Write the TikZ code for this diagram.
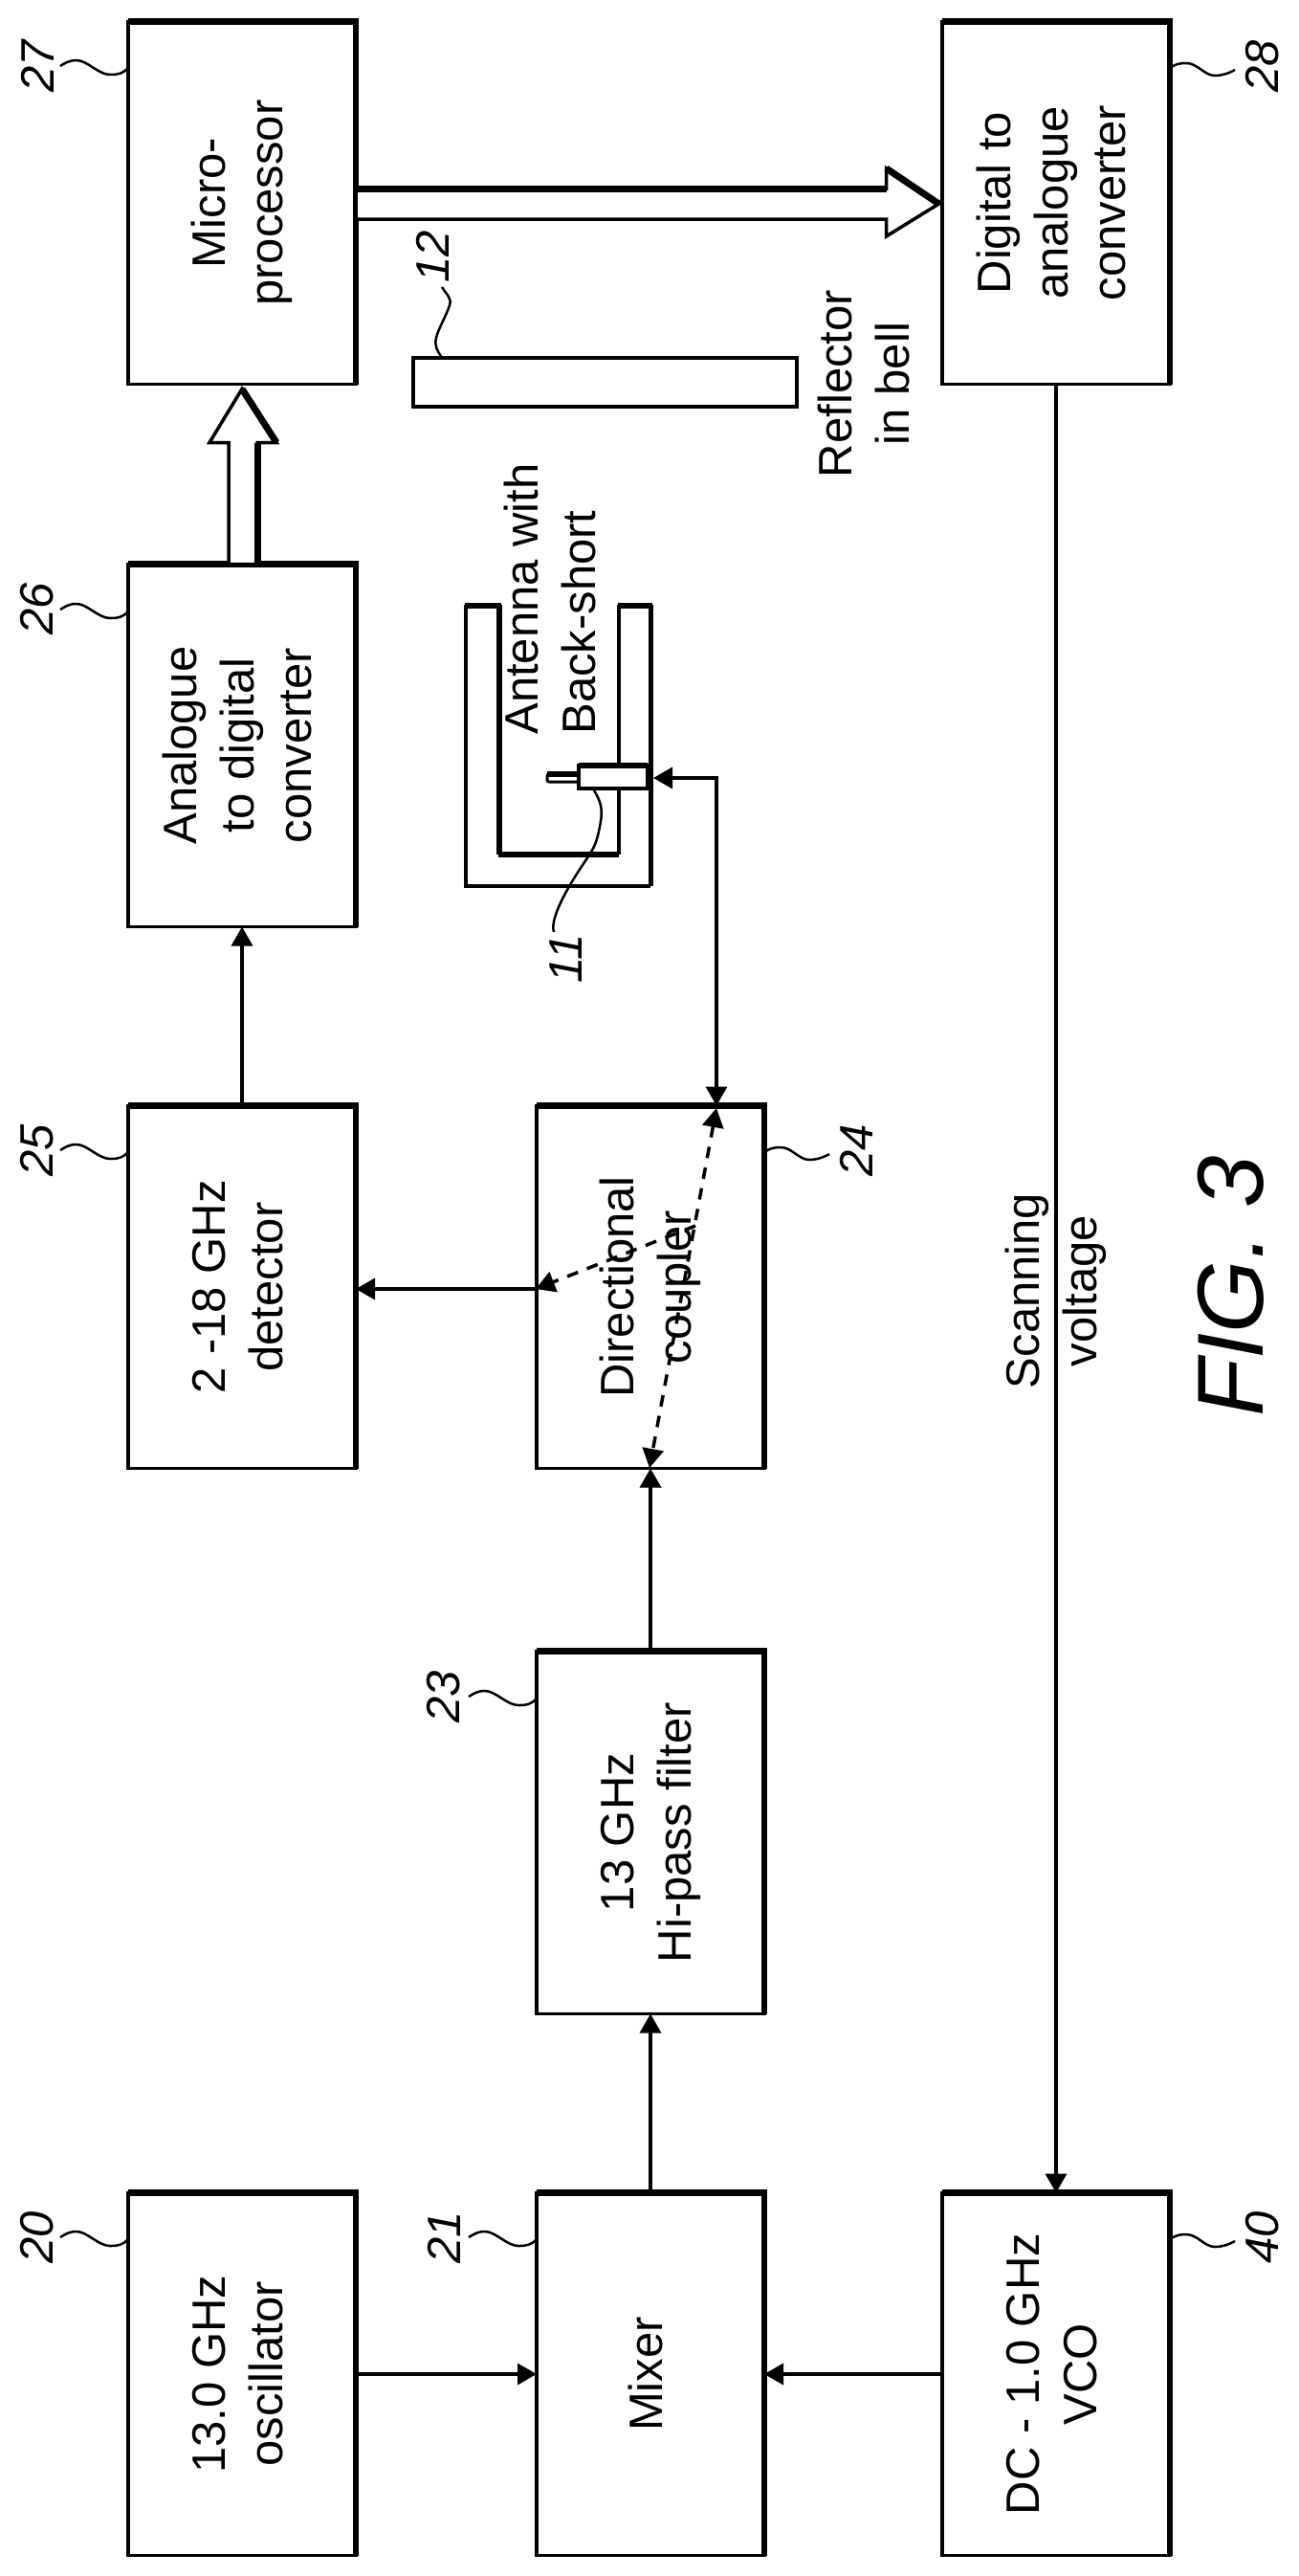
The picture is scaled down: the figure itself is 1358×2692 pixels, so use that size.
\documentclass[tikz,border=0pt]{standalone}
\usepackage{fontspec}
\setmainfont{Liberation Sans}
\usetikzlibrary{arrows.meta,calc}
\newcommand{\rtext}[1]{\rotatebox{90}{\begin{tabular}{@{}c@{}}#1\end{tabular}}}
\newcommand{\blk}[4]{%
  \node[blk] (#1) at (#2,#3) {\rtext{#4}};
  \draw[edge] (#1.north west) -- (#1.north east) -- (#1.south east);
}
\newcommand{\sqL}[2]{\draw[lead] (#1.west |- 0,#2) .. controls +(-6,6) and +(9,0) .. ++(-19,7) .. controls +(-12,0) and +(11,0) .. ++(-35,-15) .. controls +(-8,0) and +(5,-3) .. ++(-17,6);}
\newcommand{\sqR}[2]{\draw[lead] (#1.east |- 0,#2) .. controls +(6,-4) and +(-7,0) .. ++(17,-5) .. controls +(12,0) and +(-11,0) .. ++(30,13) .. controls +(8,0) and +(-5,3) .. ++(21,-6);}
\tikzset{
  x=0.5pt,y=-0.5pt,
  every node/.style={font=\fontsize{24.5}{30}\selectfont},
  blk/.style={draw,line width=1.75pt,minimum width=119pt,minimum height=189.5pt,inner sep=0pt,outer sep=0pt},
  edge/.style={line width=3.25pt,line cap=square},
  conn/.style={line width=1.75pt,-{Triangle[length=10pt,width=11pt]}},
  dconn/.style={line width=1.75pt,{Triangle[length=10pt,width=11pt]}-{Triangle[length=10pt,width=11pt]}},
  dash conn/.style={line width=1.75pt,dash pattern=on 6pt off 5pt},
  lead/.style={line width=1.25pt},
  num/.style={rotate=90,font=\fontsize{24.5}{30}\selectfont\itshape,inner sep=0pt},
  lbl/.style={inner sep=0pt},
  thin wall/.style={line width=1.75pt},
  thick wall/.style={line width=3pt},
  bus/.style={line width=1.75pt,fill=white,line join=miter},
  bus edge/.style={line width=3.5pt,line join=miter},
}
\begin{document}
\begin{tikzpicture}
\useasboundingbox[fill=white] (0,0) rectangle (1358,2692);
% blocks
\blk{mp}{253}{212}{Micro-\\processor}
\blk{dac}{1104}{212}{Digital to\\analogue\\converter}
\blk{adc}{253}{779}{Analogue\\to digital\\converter}
\blk{det}{253}{1345}{2 -18 GHz\\detector}
\blk{dc}{680}{1345}{Directional\\coupler}
\blk{hpf}{680}{1915}{13 GHz\\Hi-pass filter}
\blk{osc}{253}{2481}{13.0 GHz\\oscillator}
\blk{mix}{680}{2481}{Mixer}
\blk{vco}{1104}{2481}{DC - 1.0 GHz\\VCO}
% connectors
\draw[conn] (osc) -- (mix);
\draw[conn] (vco) -- (mix);
\draw[conn] (mix) -- (hpf);
\draw[conn] (hpf) -- (dc);
\draw[conn] (det) -- (adc);
\draw[conn] (dac) -- (vco);
\coordinate (cplout) at (560,1347);
\draw[conn] (cplout) -- (det.east |- cplout);
% hollow bus arrows
\draw[bus] (adc.north) ++(-14,0) -- ++(0,-127) -- ++(-20,0) -- ++(34,-56) -- ++(36,56) -- ++(-20,0) -- ++(0,127) -- cycle;
\draw[bus edge] (adc.north) ++(16,0) -- ++(0,-127);
\draw[bus edge] (adc.north) ++(36,-127) -- ++(-36,-56);
\draw[bus] (mp.east) ++(0,-15) -- ++(554.5,0) -- ++(0,-21) -- ++(55,37) -- ++(-55,34) -- ++(0,-18) -- ++(-554.5,0) -- cycle;
\draw[bus edge] (mp.east) ++(0,-15) -- ++(554.5,0);
\draw[bus edge] (mp.east) ++(554.5,-36) -- ++(55,37);
% reflector
\node[draw,line width=2.25pt,minimum width=200.5pt,minimum height=25.5pt,inner sep=0pt,outer sep=0pt] (refl) at (632.5,399.5) {};
\node[lbl] (refltxt) at (908,401) {\rtext{Reflector\\in bell}};
% antenna
\draw[thin wall] (487,632) -- (487,926) -- (680,926);
\draw[line width=2.5pt] (680,926) -- (680,632);
\draw[line width=3pt] (522,632) -- (522,893);
\draw[line width=3pt] (521,893) -- (647,893);
\draw[thin wall] (647,893) -- (647,632);
\draw[thick wall] (486,633) -- (524,633);
\draw[thick wall] (646,633) -- (682,633);
\draw[line width=1.5pt,fill=white,rounded corners=1pt] (605,809) -- (572,809) -- (572,817) -- (605,817);
\draw[line width=3pt] (605,809) -- (572,809);
\node[draw,fill=white,line width=1.75pt,minimum width=36pt,minimum height=12pt,inner sep=0pt,outer sep=0pt] (feed) at (641,812) {};
\draw[line width=3pt] (feed.north west) -- (feed.north east);
\coordinate (antin) at (683,813);
\node[lbl,anchor=south] (anttxt2) at (580,768) {\rotatebox{90}{\begin{tabular}{@{}l@{}}Antenna with\\Back-short\end{tabular}}};
% coupler feed
\draw[dconn] (dc.north -| 749,0) -- (749,813) -- (antin);
% dashed arrows inside coupler
\coordinate (dtop) at (749,1158);
\coordinate (dbot) at (679,1534);
\coordinate (dbr) at (727,1281);
\draw[dash conn,{Triangle[length=10pt,width=11pt]}-{Triangle[length=10pt,width=11pt]}] (dtop) -- (dbot);
\draw[dash conn,-{Triangle[length=10pt,width=11pt]}] (dbr) -- (cplout);
% leaders and numbers
\sqL{mp}{71} \node[num] (n27) at (39,69) {27};
\sqR{dac}{71} \node[num] (n28) at (1320,69) {28};
\sqL{adc}{639} \node[num] (n26) at (39,636) {26};
\sqL{det}{1204} \node[num] (n25) at (39,1202) {25};
\sqR{dc}{1204} \node[num] (n24) at (895,1202) {24};
\sqL{hpf}{1775} \node[num] (n23) at (464,1773) {23};
\sqL{osc}{2340} \node[num] (n20) at (39,2338) {20};
\sqL{mix}{2340} \node[num] (n21) at (464,2338) {21};
\sqR{vco}{2340} \node[num] (n40) at (1320,2338) {40};
\node[num] (n12) at (452,268) {12};
\draw[lead] (refl.north west) ++(30,0) .. controls +(-5,-8) and +(-2,9) .. ++(-6,-21) .. controls +(2,-9) and +(-3,10) .. ++(14,-34) .. controls +(3,-8) and +(3,6) .. ++(-8,-19);
\node[num] (n11) at (592,1002) {11};
\draw[lead] (feed.south west) ++(15,0) .. controls +(8,14) and +(4,-20) .. ++(7,40) .. controls +(-4,20) and +(12,-18) .. ++(-18,40) .. controls +(-12,18) and +(-5,-15) .. ++(-30,70);
% free labels
\node[lbl] (scan) at (1104,1349) {\rtext{Scanning\\voltage}};
\node[lbl,font=\fontsize{49}{56}\selectfont\itshape,rotate=90] (fig) at (1287,1344) {FIG. 3};
\end{tikzpicture}
\end{document}
